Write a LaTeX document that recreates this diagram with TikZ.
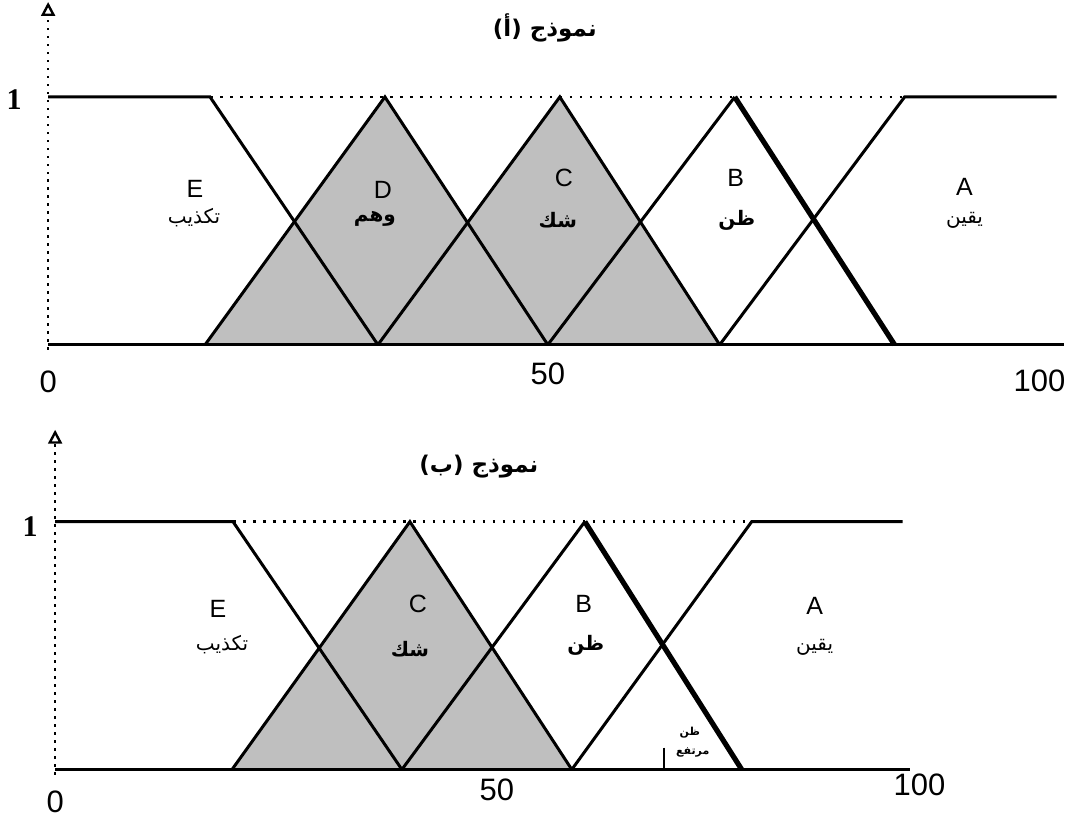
\documentclass[tikz,border=0pt]{standalone}
\usepackage{fontspec}
\setmainfont{Liberation Sans}
\newfontfamily\arab[Script=Arabic]{DejaVu Sans}
\newfontfamily\serif{Liberation Serif}
\TeXXeTstate=1
\usepackage{tikz}
\usetikzlibrary{arrows.meta}

\tikzset{
	kurve/.style={line width=1.5pt},
	dick/.style={line width=2.6pt},
	punkte/.style={line width=1.2pt, dash pattern=on 1.3pt off 3.7pt},
	achse/.style={line width=1.1pt, dash pattern=on 1.2pt off 2.8pt,
		-{Triangle[open, length=7pt, width=7pt, line width=1.2pt]}},
	grau/.style={fill=gray!50},
	buchst/.style={font=\fontsize{12.5}{12.5}\selectfont},
	wort/.style={font=\arab\fontsize{10}{10}\selectfont},
	wortfett/.style={font=\arab\bfseries\fontsize{10}{10}\selectfont},
	klein/.style={font=\arab\bfseries\fontsize{5.5}{5.5}\selectfont},
	zahl/.style={font=\fontsize{15.5}{15.5}\selectfont},
	eins/.style={font=\serif\bfseries\fontsize{15}{15}\selectfont},
	titel/.style={font=\arab\bfseries\fontsize{11.5}{11.5}\selectfont},
}

\begin{document}
\begin{tikzpicture}[x=0.5pt, y=-0.5pt]
	\fill[white] (0,0) rectangle (1072,821); % weisser Rand um Grafik
	
	%%% Modell (a)
	\fill[grau] (205,345) -- (385,97) -- (548,345) -- cycle; % D
	\fill[grau] (378,345) -- (560,97) -- (720,345) -- cycle; % C
	
	\draw[punkte] (210,97) -- (905,97);
	\draw[achse] (48,350) -- (48,2);
	
	\draw[kurve] (48,97) -- (210,97) -- (378,345); % E
	\draw[kurve] (205,345) -- (385,97) -- (548,345); % D
	\draw[kurve] (378,345) -- (560,97) -- (720,345); % C
	\draw[kurve] (548,345) -- (735,97); % B
	\draw[dick] (735,97) -- (895,345);
	\draw[kurve] (720,345) -- (905,97) -- (1057,97); % A
	\draw[kurve] (48,345) -- (1065,345);
	
	\node[titel] (titelA) at (545,28) {\beginR نموذج (أ)\endR};
	\node[eins] (einsA) at (14,100) {1};
	
	\node[buchst] (Ea) at (195,189) {E};
	\node[wort] (tEa) at (194,218) {\beginR تكذيب\endR};
	\node[buchst] (Da) at (383,190) {D};
	\node[wortfett] (tDa) at (375,219) {\beginR وهم\endR};
	\node[buchst] (Ca) at (564,178) {C};
	\node[wortfett] (tCa) at (558,220) {\beginR شك\endR};
	\node[buchst] (Ba) at (736,178) {B};
	\node[wortfett] (tBa) at (737,220) {\beginR ظن\endR};
	\node[buchst] (Aa) at (965,187) {A};
	\node[wort] (tAa) at (965,220) {\beginR يقين\endR};
	
	\node[zahl] (nullA) at (48,382) {0};
	\node[zahl] (fuenfzigA) at (548,374) {50};
	\node[zahl] (hundertA) at (1040,381) {100};
	
	%%% Modell (b)
	\fill[grau] (232,770) -- (410,522) -- (572,770) -- cycle; % C
	
	\draw[punkte] (233,522) -- (752,522);
	\draw[achse] (55,775) -- (55,430);
	
	\draw[kurve] (55,522) -- (233,522) -- (402,770); % E
	\draw[kurve] (232,770) -- (410,522) -- (572,770); % C
	\draw[kurve] (402,770) -- (585,522); % B
	\draw[dick] (585,522) -- (742,770);
	\draw[kurve] (572,770) -- (752,522) -- (903,522); % A
	\draw[kurve] (55,770) -- (910,770);
	\draw[line width=1pt] (664,748) -- (664,770); % Strich
	
	\node[titel] (titelB) at (479,467) {\beginR نموذج (ب)\endR};
	\node[eins] (einsB) at (30,527) {1};
	
	\node[buchst] (Eb) at (218,609) {E};
	\node[wort] (tEb) at (222,645) {\beginR تكذيب\endR};
	\node[buchst] (Cb) at (418,604) {C};
	\node[wortfett] (tCb) at (410,650) {\beginR شك\endR};
	\node[buchst] (Bb) at (584,604) {B};
	\node[wortfett] (tBb) at (586,646) {\beginR ظن\endR};
	\node[buchst] (Ab) at (815,606) {A};
	\node[wort] (tAb) at (815,648) {\beginR يقين\endR};
	\node[klein] (tHoch1) at (690,733) {\beginR ظن\endR};
	\node[klein] (tHoch2) at (693,753) {\beginR مرتفع\endR};
	
	\node[zahl] (nullB) at (55,802) {0};
	\node[zahl] (fuenfzigB) at (497,790) {50};
	\node[zahl] (hundertB) at (920,785) {100};
\end{tikzpicture}
\end{document}
